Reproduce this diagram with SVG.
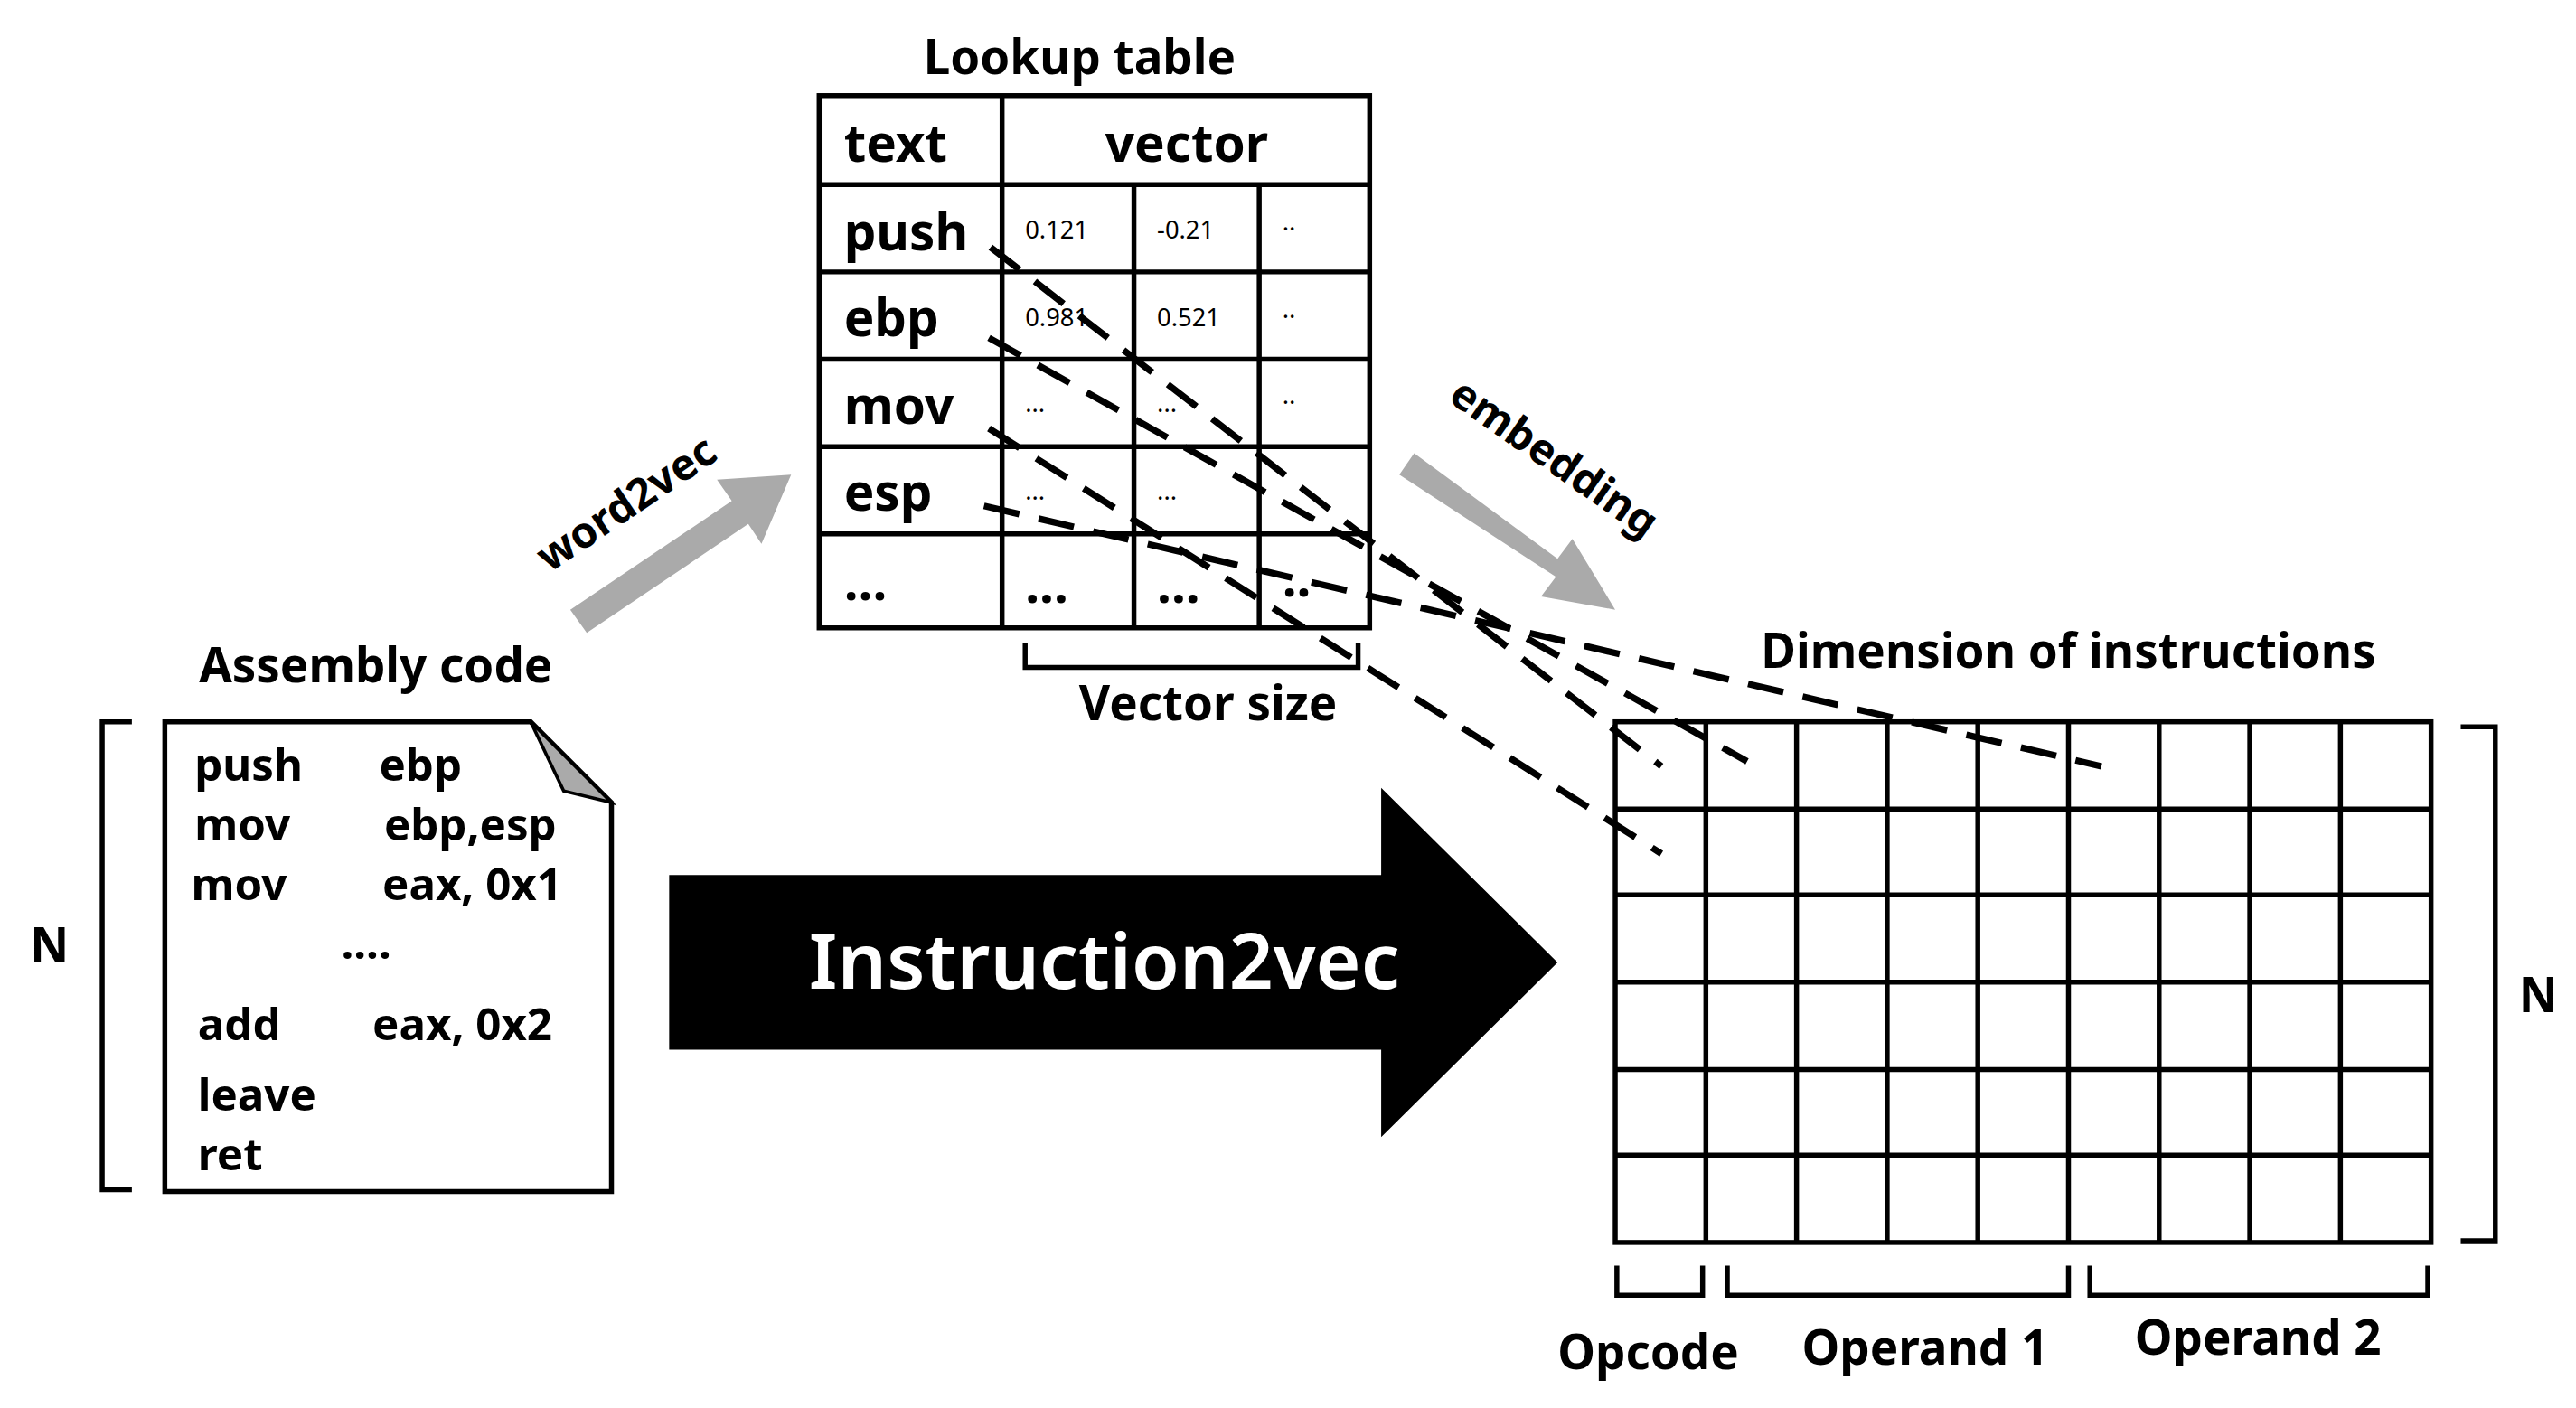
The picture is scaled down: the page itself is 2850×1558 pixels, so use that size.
<svg xmlns="http://www.w3.org/2000/svg" width="2850" height="1558" viewBox="0 0 2850 1558">
<style>
text{font-family:"Noto Sans","Open Sans",sans-serif;font-weight:bold;fill:#000}
.ln{fill:none;stroke:#000;stroke-width:3}
.br{fill:none;stroke:#000;stroke-width:3}
.dash{fill:none;stroke:#000;stroke-width:4;stroke-dasharray:22 12}
.small{font-size:15px;font-weight:normal}
.row{font-size:31px}
.code{font-size:27px}
.lbl{font-size:29px}
</style>
<rect width="2850" height="1558" fill="#fff"/>
<g transform="scale(1.8235)">
<g id="lookup">
<text x="655" y="45" text-anchor="middle" class="lbl">Lookup table</text>
<rect x="497" y="58" width="334" height="323" class="ln"/>
<path class="ln" d="M497 112H831M497 165H831M497 218H831M497 271H831M497 324H831M608 58V381M688 112V381M764 112V381"/>
<text x="512" y="98" class="row">text</text>
<text x="720" y="98" class="row" text-anchor="middle">vector</text>
<text x="512" y="152" class="row">push</text>
<text x="512" y="204" class="row">ebp</text>
<text x="512" y="257" class="row">mov</text>
<text x="512" y="310" class="row">esp</text>
<text x="512" y="364" class="row">...</text>
<text x="622" y="145" class="small">0.121</text>
<text x="702" y="145" class="small">-0.21</text>
<text x="778" y="140" class="small">..</text>
<text x="622" y="198" class="small">0.981</text>
<text x="702" y="198" class="small">0.521</text>
<text x="778" y="193" class="small">..</text>
<text x="622" y="250" class="small">...</text>
<text x="702" y="250" class="small">...</text>
<text x="778" y="245" class="small">..</text>
<text x="622" y="303" class="small">...</text>
<text x="702" y="303" class="small">...</text>
<text x="622" y="366" class="row">...</text>
<text x="702" y="366" class="row">...</text>
<text x="778" y="362" class="row">..</text>
<path class="br" d="M622 390V405H824V390"/>
<text x="733" y="437" class="lbl" text-anchor="middle">Vector size</text>
</g>
<g id="assembly">
<text x="228" y="414" class="lbl" text-anchor="middle">Assembly code</text>
<path class="ln" d="M100 438H322L371 487V723H100Z"/>
<path d="M322 438L371 487L342 480Z" fill="#aaa" stroke="#000" stroke-width="2"/>
<path class="br" d="M80 438H62V722H80"/>
<text x="30" y="584" class="lbl" text-anchor="middle">N</text>
<text x="118" y="474" class="code">push</text><text x="230" y="474" class="code">ebp</text>
<text x="118" y="510" class="code">mov</text><text x="233" y="510" class="code">ebp,esp</text>
<text x="116" y="546" class="code">mov</text><text x="232" y="546" class="code">eax, 0x1</text>
<text x="207" y="582" class="code">....</text>
<text x="120" y="631" class="code">add</text><text x="226" y="631" class="code">eax, 0x2</text>
<text x="120" y="674" class="code">leave</text>
<text x="120" y="710" class="code">ret</text>
</g>
<g id="instruction2vec">
<path d="M406 531H838V478L945 584L838 690V637H406Z" fill="#000"/>
<text x="670" y="600" text-anchor="middle" style="font-size:47px;fill:#fff;font-weight:600">Instruction2vec</text>
</g>
<g id="word2vec">
<path d="M346 370L444 304L435 291L480 288L462 330L454 318L356 384Z" fill="#aaa"/>
<text x="0" y="0" class="lbl" transform="translate(385 313) rotate(-34)" text-anchor="middle" style="font-size:26px">word2vec</text>
</g>
<g id="embedding">
<path d="M858 275L945 339L954 327L980 370L935 362L944 350L849 288Z" fill="#aaa"/>
<text x="0" y="0" class="lbl" transform="translate(938 285) rotate(35)" text-anchor="middle" style="font-size:26px">embedding</text>
</g>
<g id="matrix">
<text x="1255" y="405" class="lbl" text-anchor="middle">Dimension of instructions</text>
<rect x="980" y="438" width="495" height="316" class="ln"/>
<path class="ln" d="M1035 438V754M1090 438V754M1145 438V754M1200 438V754M1255 438V754M1310 438V754M1365 438V754M1420 438V754M980 491H1475M980 543H1475M980 596H1475M980 649H1475M980 701H1475"/>
<path class="br" d="M1493 441H1514V753H1493"/>
<text x="1540" y="614" class="lbl" text-anchor="middle">N</text>
<path class="br" d="M981 768V786H1033V768M1048 768V786H1255V768M1268 768V786H1473V768"/>
<text x="1000" y="831" class="lbl" text-anchor="middle">Opcode</text>
<text x="1168" y="828" class="lbl" text-anchor="middle">Operand 1</text>
<text x="1370" y="822" class="lbl" text-anchor="middle">Operand 2</text>
</g>
<g id="connectors">
<path class="dash" d="M601 150L1008 465"/>
<path class="dash" d="M600 205L1060 462"/>
<path class="dash" d="M600 260L1008 518"/>
<path class="dash" d="M597 307L1275 465"/>
</g>
</g>
</svg>
